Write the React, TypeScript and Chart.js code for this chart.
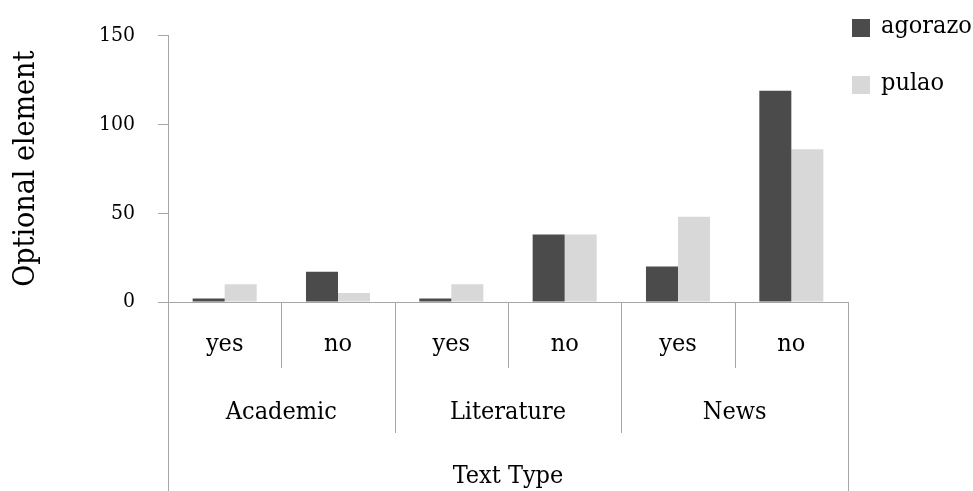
import React, { useEffect, useRef } from "react";
import { Chart, registerables } from "chart.js";

Chart.register(...registerables);

// ---- data ----
const groups = ["Academic", "Literature", "News"];
const subCategories = ["yes", "no"];
const seriesNames = ["agorazo", "pulao"];
const agorazo = [2, 17, 2, 38, 20, 119];
const pulao = [10, 5, 10, 38, 48, 86];
const yTicks = [0, 50, 100, 150];
const xTitle = "Text Type";
const yTitle = "Optional element";

const FONT = "'DejaVu Serif Condensed', 'DejaVu Serif', serif";
const AXIS = "#a6a6a6";
const DARK = "#4b4b4b";
const LIGHT = "#d8d8d8";

const lowerPlugin = {
  id: "lowerStructure",
  afterDraw(chart: any) {
    const { ctx, chartArea, scales } = chart;
    const x = scales.x;
    const n = chart.data.labels.length;
    const w = x.getPixelForValue(1) - x.getPixelForValue(0);
    const base = chartArea.bottom;
    const bottom = chart.height;
    const span = subCategories.length;
    ctx.save();
    ctx.strokeStyle = AXIS;
    ctx.lineWidth = 1;
    for (let i = 0; i <= n; i++) {
      const raw = i < n ? x.getPixelForValue(i) - w / 2 : x.getPixelForValue(n - 1) + w / 2;
      const px = Math.round(raw) + 0.5;
      let y2: number;
      if (i === 0 || i === n) y2 = bottom;
      else if (i % span === 0) y2 = base + 131;
      else y2 = base + 66;
      ctx.beginPath();
      ctx.moveTo(px, base);
      ctx.lineTo(px, y2);
      ctx.stroke();
    }
    ctx.fillStyle = "#000";
    ctx.font = `25px ${FONT}`;
    ctx.textAlign = "center";
    ctx.textBaseline = "alphabetic";
    groups.forEach((g, gi) => {
      const first = gi * span;
      const last = first + span - 1;
      const cx = (x.getPixelForValue(first) + x.getPixelForValue(last)) / 2;
      ctx.fillText(g, cx, base + 117);
    });
    // legend
    ctx.textAlign = "left";
    chart.data.datasets.forEach((ds: any, i: number) => {
      const yb = 33 + 57 * i;
      ctx.fillStyle = ds.backgroundColor;
      ctx.fillRect(chartArea.right + 4, yb - 14, 18, 18);
      ctx.fillStyle = "#000";
      ctx.fillText(ds.label, chartArea.right + 33, yb);
    });
    ctx.restore();
  },
};

export default function App() {
  const ref = useRef<HTMLCanvasElement | null>(null);
  useEffect(() => {
    if (!ref.current) return;
    const labels = groups.flatMap(() => subCategories);
    const chart = new Chart(ref.current, {
      type: "bar",
      data: {
        labels,
        datasets: [
          { label: seriesNames[0], data: agorazo, backgroundColor: DARK, borderWidth: 0 },
          { label: seriesNames[1], data: pulao, backgroundColor: LIGHT, borderWidth: 0 },
        ],
      },
      options: {
        animation: false,
        responsive: true,
        maintainAspectRatio: false,
        layout: { padding: { top: 35, right: 125, bottom: 0, left: 0 } },
        datasets: { bar: { categoryPercentage: 0.565, barPercentage: 1 } },
        plugins: { legend: { display: false }, tooltip: { enabled: false } },
        scales: {
          x: {
            grid: { drawOnChartArea: false, drawTicks: false, color: AXIS },
            border: { display: true, color: AXIS, width: 1 },
            ticks: { color: "#000", font: { family: FONT, size: 25 }, padding: 27, maxRotation: 0 },
            title: {
              display: true,
              text: xTitle,
              color: "#000",
              font: { family: FONT, size: 25 },
              padding: { top: 0, bottom: 0 },
            },
            afterFit: (s: any) => {
              s.height = 189;
            },
          },
          y: {
            min: 0,
            max: 150,
            afterBuildTicks: (s: any) => {
              s.ticks = yTicks.map((v) => ({ value: v }));
            },
            grid: { drawOnChartArea: false, drawTicks: true, tickLength: 10, color: AXIS },
            border: { display: true, color: AXIS, width: 1 },
            ticks: { color: "#000", font: { family: FONT, size: 21 }, padding: 23 },
            title: {
              display: true,
              text: yTitle,
              color: "#000",
              font: { family: FONT, size: 30 },
              padding: { top: 8, bottom: 0 },
            },
            afterFit: (s: any) => {
              s.width = 168;
            },
          },
        },
      },
      plugins: [lowerPlugin],
    } as any);
    return () => chart.destroy();
  }, []);
  return (
    <div style={{ position: "fixed", left: 0, top: 0, width: 973, height: 491, background: "#fff" }}>
      <canvas ref={ref} />
    </div>
  );
}
